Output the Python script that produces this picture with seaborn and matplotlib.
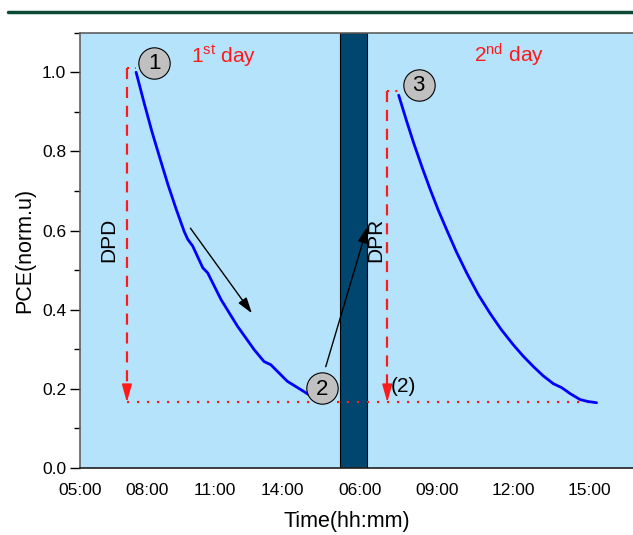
import numpy as np
import pandas as pd
import matplotlib
matplotlib.use("Agg")
import matplotlib.pyplot as plt
from matplotlib.lines import Line2D
import seaborn as sns

# ---------------- data ----------------
day1_time = [7.50, 7.86, 8.21, 8.57, 8.92, 9.28, 9.64, 9.80, 10.02, 10.47, 10.69,
             11.28, 12.02, 12.76, 13.20, 13.50, 14.24, 14.84, 15.43]
day1_pce = [1.000, 0.922, 0.849, 0.781, 0.716, 0.655, 0.598, 0.578, 0.561, 0.506,
            0.493, 0.426, 0.358, 0.299, 0.269, 0.261, 0.219, 0.198, 0.177]

day2_time = [7.50, 7.80, 8.09, 8.43, 8.75, 9.06, 9.40, 9.77, 10.18, 10.63, 11.10,
             11.53, 12.01, 12.39, 12.80, 13.18, 13.58, 13.91, 14.24, 14.63, 14.94,
             15.28]
day2_pce = [0.942, 0.879, 0.821, 0.758, 0.702, 0.651, 0.600, 0.546, 0.492, 0.438,
            0.390, 0.350, 0.311, 0.283, 0.256, 0.233, 0.213, 0.203, 0.188, 0.173,
            0.168, 0.165]

day1_ticks = [5, 8, 11, 14]
day2_ticks = [6, 9, 12, 15]
day1_ticklabels = ["05:00", "08:00", "11:00", "14:00"]
day2_ticklabels = ["06:00", "09:00", "12:00", "15:00"]

night_start_day1 = 16.6   # hour on day 1 where the night band starts
night_end_day2 = 6.27     # hour on day 2 where the night band ends
ppd_level = 0.166         # degraded level after day 1
dpd_top = 1.012
dpr_top = 0.953

# broken time axis: day 1 and day 2 segments
def pos(day, h):
    if day == 1:
        return h - 5.0
    return 12.5 + (h - 6.0) * 1.1333

# ---------------- figure ----------------
sns.set_theme(style="ticks")
plt.rcParams["font.family"] = ["Liberation Sans", "DejaVu Sans"]
plt.rcParams["mathtext.fontset"] = "custom"
plt.rcParams["mathtext.rm"] = "Liberation Sans"
plt.rcParams["mathtext.it"] = "Liberation Sans:italic"

fig = plt.figure(figsize=(6.33, 5.35), dpi=100)
ax = fig.add_axes([80 / 633, 67 / 535, 553 / 633, 435.3 / 535])
ax.set_facecolor("#b5e3fb")

red = "#ff1a1a"

df = pd.concat([
    pd.DataFrame({"x": [pos(1, t) for t in day1_time], "pce": day1_pce, "day": 1}),
    pd.DataFrame({"x": [pos(2, t) for t in day2_time], "pce": day2_pce, "day": 2}),
])
sns.lineplot(data=df, x="x", y="pce", units="day", estimator=None, sort=False,
             color="#0000ff", lw=2.0, ax=ax, zorder=4,
             solid_joinstyle="round", solid_capstyle="round")

# night band
ax.axvspan(pos(1, night_start_day1), pos(2, night_end_day2), color="#00466e",
           ec="black", lw=0.8, zorder=2)

# dashed DPD / DPR guides
x_dpd = pos(1, 7.09)
x_dpr = pos(2, 7.05)
for xv, top, xc in [(x_dpd, dpd_top, pos(1, 7.5)), (x_dpr, dpr_top, pos(2, 7.5))]:
    ax.plot([xv, xv], [top, ppd_level + 0.03], color=red, lw=1.6,
            ls=(0, (5, 3.5)), zorder=3)
    ax.annotate("", xy=(xv, ppd_level), xytext=(xv, ppd_level + 0.04),
                arrowprops=dict(arrowstyle="-|>,head_length=0.9,head_width=0.25",
                                color=red, lw=1.2, mutation_scale=12,
                                shrinkA=0, shrinkB=0), zorder=3)
    ax.plot([xv, xc], [top, top], color=red, lw=1.5, ls=(0, (1, 3)), zorder=3)

ax.plot([x_dpd, pos(2, 15.29)], [ppd_level, ppd_level], color=red, lw=1.6,
        ls=(0, (1, 3.5)), zorder=3)

# black arrows
ax.annotate("", xy=(pos(1, 12.66), 0.391), xytext=(pos(1, 9.92), 0.606),
            arrowprops=dict(arrowstyle="-|>,head_length=0.8,head_width=0.25",
                            color="black", lw=1.0, mutation_scale=12,
                            shrinkA=0, shrinkB=0), zorder=5)
ax.annotate("", xy=(12.8, 0.609), xytext=(pos(1, 15.95), 0.256),
            arrowprops=dict(arrowstyle="-|>,head_length=0.8,head_width=0.25",
                            color="black", lw=1.0, mutation_scale=12,
                            shrinkA=0, shrinkB=0), zorder=5)

# numbered circles
circles = [(pos(1, 8.316), 1.024, "1"), (pos(1, 15.8), 0.2016, "2"),
           (pos(2, 8.286), 0.969, "3")]
for cx, cy, lab in circles:
    ax.scatter([cx], [cy], s=510, c="#c0c0c0", edgecolors="black",
               linewidths=0.8, zorder=6)
    ax.text(cx, cy - 0.002, lab, ha="center", va="center", fontsize=16,
            color="black", zorder=7)

# texts
ax.text(pos(1, 9.956), 1.024, r"1$^{\mathrm{st}}$ day", color=red, fontsize=15,
        ha="left", va="baseline", zorder=7)
ax.text(17.57, 1.024, r"2$^{\mathrm{nd}}$ day", color=red, fontsize=15,
        ha="left", va="baseline", zorder=7)
ax.text(1.262, 0.577, "DPD", rotation=90, fontsize=15, ha="center", va="center",
        color="black", zorder=7)
ax.text(13.18, 0.577, "DPR", rotation=90, fontsize=15, ha="center", va="center",
        color="black", zorder=7)
ax.text(14.4, 0.205, "(2)", fontsize=15, ha="center", va="center",
        color="black", zorder=7)

# axes
ax.set_xlim(0.058, 24.64)
ax.set_ylim(0, 1.1)
xt = [pos(1, h) for h in day1_ticks] + [pos(2, h) for h in day2_ticks]
ax.set_xticks(xt)
ax.set_xticklabels(day1_ticklabels + day2_ticklabels)
ax.tick_params(axis="x", length=0, pad=11, labelsize=12.5, colors="black")
ax.set_yticks(np.arange(0, 1.01, 0.2))
ax.set_yticklabels([f"{v:.1f}" for v in np.arange(0, 1.01, 0.2)])
ax.set_yticks(np.arange(0.1, 1.11, 0.2), minor=True)
ax.tick_params(axis="y", which="major", length=7, width=1, direction="out",
               labelsize=12.5, colors="black", pad=3)
ax.tick_params(axis="y", which="minor", length=4, width=1, direction="out")
ax.tick_params(axis="y", which="both", color="black")

for s in ["left", "top"]:
    ax.spines[s].set_color("#606060")
    ax.spines[s].set_linewidth(1.2)
ax.spines["bottom"].set_color("#202020")
ax.spines["bottom"].set_linewidth(1.2)
ax.spines["right"].set_visible(False)

ax.set_xlabel("Time(hh:mm)", fontsize=15.5, color="black")
ax.xaxis.label.set_va("center")
ax.xaxis.set_label_coords((347 - 80) / 553, (468 - 522) / 435.3)
ax.set_ylabel("PCE(norm.u)", fontsize=15.5, color="black")
ax.yaxis.label.set_va("center")
ax.yaxis.set_label_coords((25 - 80) / 553, 0.5)

# top decorative rule
fig.add_artist(Line2D([8 / 633, 1.0], [1 - 12 / 535, 1 - 12 / 535],
                      color="#0d4a35", lw=2.5))

fig.savefig("out.png", dpi=100)
